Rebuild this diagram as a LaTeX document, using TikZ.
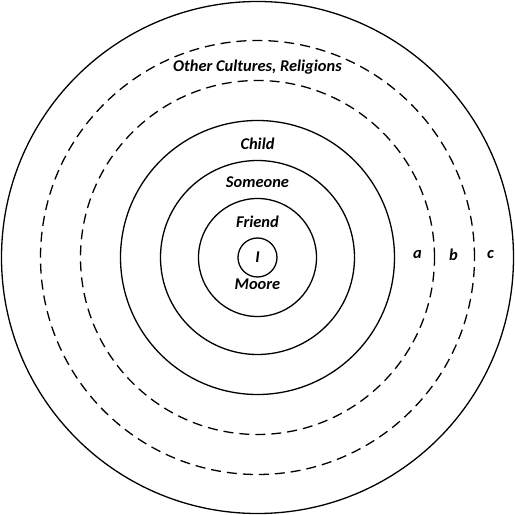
\documentclass[tikz,border=0pt]{standalone}
\usepackage{fontspec}
\setmainfont{Carlito}
\usetikzlibrary{positioning}
\tikzset{
x=1bp,
y=1bp,
ring/.style={line width=1.3bp},
dashring/.style={line width=1.3bp, dash pattern=on 10bp off 6bp},
every node/.style={font=\bfseries\itshape\fontsize{16.5}{19}\selectfont},
}
\begin{document}
\begin{tikzpicture}
    \useasboundingbox (-257.5,-257.5) rectangle (257.5,257.5);

    \draw[ring] (0,0) circle (256);
    \draw[dashring] (0,0) circle (217);
    \draw[dashring] (0,0) circle (177);
    \draw[ring] (0,0) circle (137);
    \draw[ring] (0,0) circle (97);
    \draw[ring] (0,0) circle (59);

    \node[ring,draw,circle,minimum size=39bp,inner sep=0pt] (me) {I};
    \node (friend) at (0,36) {Friend};
    \node (moore) at (0,-27) {Moore};
    \node (someone) at (0,75) {Someone};
    \node (child) at (0,114) {Child};
    \node (other) at (0,190) {Other Cultures, Religions};
    \node (a) at (160,3) {a};
    \node (b) at (196,3) {b};
    \node (c) at (233,3) {c};

\end{tikzpicture}
\end{document}
